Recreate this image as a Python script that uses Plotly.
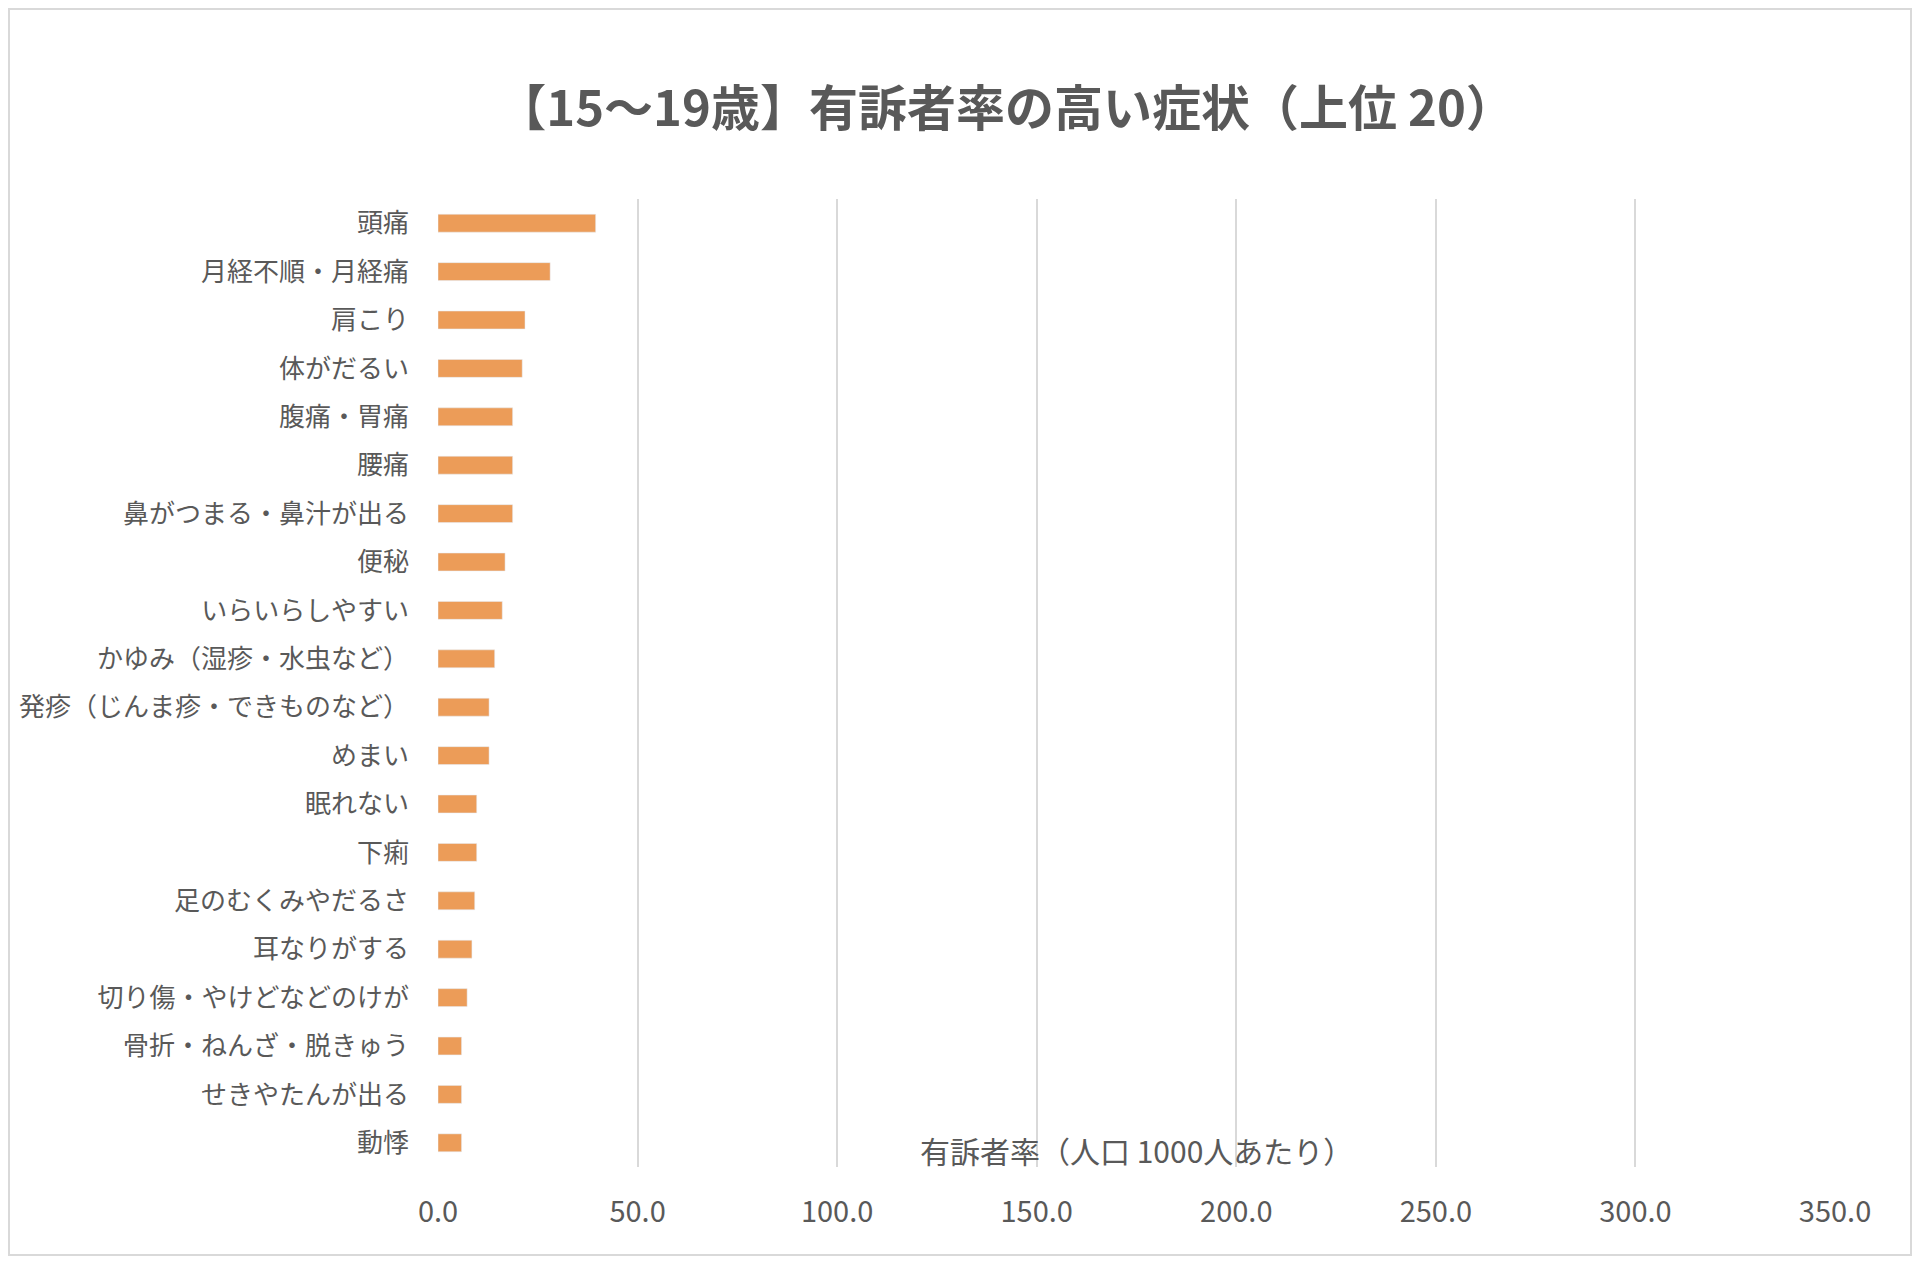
import plotly.graph_objects as go

# 症状（上から順）
symptoms = [
    "頭痛", "月経不順・月経痛", "肩こり", "体がだるい", "腹痛・胃痛",
    "腰痛", "鼻がつまる・鼻汁が出る", "便秘", "いらいらしやすい",
    "かゆみ（湿疹・水虫など）", "発疹（じんま疹・できものなど）", "めまい",
    "眠れない", "下痢", "足のむくみやだるさ", "耳なりがする",
    "切り傷・やけどなどのけが", "骨折・ねんざ・脱きゅう", "せきやたんが出る", "動悸",
]
# 有訴者率（人口1000人あたり）
rates = [
    39.5, 28.1, 21.8, 21.1, 18.7,
    18.7, 18.7, 16.8, 16.1,
    14.2, 12.8, 12.8,
    9.7, 9.7, 9.2, 8.5,
    7.3, 5.9, 5.9, 5.9,
]
x_ticks = [0, 50, 100, 150, 200, 250, 300, 350]

title_text = "【15～19歳】有訴者率の高い症状（上位 20）"
x_title = "有訴者率（人口 1000人あたり）"

FONT = "Noto Sans CJK JP"
GRAY = "#595959"

fig = go.Figure(go.Bar(
    x=rates,
    y=symptoms,
    orientation="h",
    marker=dict(color="#EC9C58"),
))

# ページの body 余白 (8px) を差し引いたサイズ
fig.update_layout(
    width=1904,
    height=1249,
    paper_bgcolor="white",
    plot_bgcolor="white",
    margin=dict(l=430, r=77, t=191, b=90),
    bargap=0.63,
    showlegend=False,
    font=dict(family=FONT, color=GRAY),
    title=dict(
        text=f"<b>{title_text}</b>",
        x=0.5242, xref="container", xanchor="center",
        y=0.9191, yref="container", yanchor="middle",
        font=dict(size=49, color=GRAY, family=FONT),
    ),
)

fig.update_xaxes(
    range=[0, 350],
    tickvals=x_ticks,
    tickformat=".1f",
    showgrid=True,
    gridcolor="#D9D9D9",
    gridwidth=1.5,
    zeroline=False,
    showline=False,
    ticks="",
    automargin=False,
    ticklabelstandoff=25,
    tickfont=dict(size=29, color=GRAY, family=FONT),
)

fig.update_yaxes(
    autorange="reversed",
    showgrid=False,
    zeroline=False,
    showline=False,
    ticks="",
    automargin=False,
    ticklabelstandoff=28,
    tickfont=dict(size=26, color=GRAY, family=FONT),
)

# 軸ラベル（プロット内下部に重なる位置）
fig.add_annotation(
    text=x_title,
    xref="paper", yref="paper",
    x=0.5, y=0.018,
    xanchor="center", yanchor="middle",
    showarrow=False,
    font=dict(size=30, color=GRAY, family=FONT),
)

# グラフ外枠
fig.add_shape(
    type="rect",
    xref="paper", yref="paper",
    x0=-0.3071, x1=1.0544, y0=-0.0909, y1=1.1963,
    line=dict(color="#D9D9D9", width=2),
    fillcolor="rgba(0,0,0,0)",
    layer="below",
)

fig.write_html("out.html")
